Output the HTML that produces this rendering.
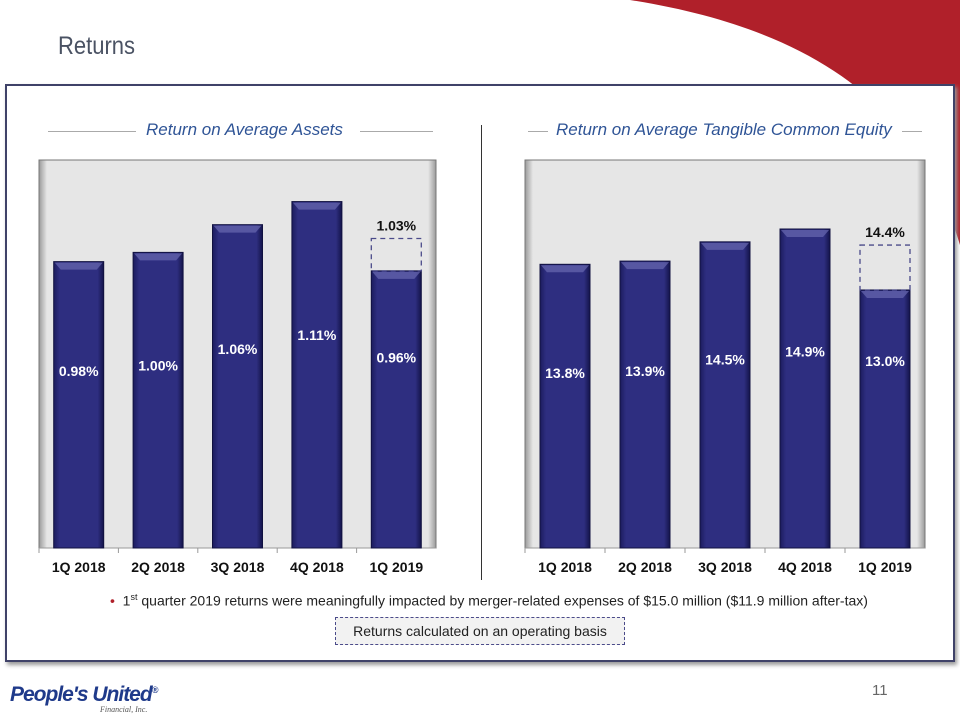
<!DOCTYPE html>
<html><head><meta charset="utf-8">
<style>
body{margin:0;width:960px;height:720px;background:#fff;font-family:"Liberation Sans",sans-serif;overflow:hidden;position:relative}
#title{position:absolute;left:58px;top:32px;font-size:25px;color:#4a5263;font-family:"Liberation Sans Narrow","Liberation Sans",sans-serif;transform:scaleX(0.88);transform-origin:left}
#frame{position:absolute;left:5px;top:84px;width:946px;height:574px;border:2px solid #3f4268;box-shadow:2px 3px 4px #999;background:#fff}
.ct{position:absolute;font-style:italic;color:#2f5496;font-size:17px;font-family:"Liberation Sans Narrow","Liberation Sans",sans-serif}
.ln{position:absolute;height:1px;background:#aaa}
svg{position:absolute;left:0;top:0}
</style></head><body>
<svg width="960" height="720"><path d="M630,0 L960,0 L960,245 C920,110 820,30 630,0Z" fill="#b0202a"/></svg>
<div id="title">Returns</div>
<div id="frame"></div>
<div class="ln" style="left:48px;top:131px;width:88px"></div>
<div class="ln" style="left:360px;top:131px;width:73px"></div>
<div class="ct" style="left:146px;top:120px">Return on Average Assets</div>
<div class="ln" style="left:528px;top:131px;width:20px"></div>
<div class="ln" style="left:902px;top:131px;width:20px"></div>
<div class="ct" style="left:556px;top:120px">Return on Average Tangible Common Equity</div>
<div style="position:absolute;left:481px;top:125px;width:1px;height:455px;background:#333"></div>
<svg id="chart" width="960" height="720"></svg>
<div style="position:absolute;left:110px;top:592px;font-size:14px;color:#222;font-family:'Liberation Sans Narrow','Liberation Sans',sans-serif"><span style="color:#b0202a">•</span>&nbsp; 1<sup style="font-size:9px">st</sup> quarter 2019 returns were meaningfully impacted by merger-related expenses of $15.0 million ($11.9 million after-tax)</div>
<div style="position:absolute;left:335px;top:617px;width:288px;height:26px;border:1px dashed #4b4b8a;background:#f2f2f2;font-size:14px;text-align:center;line-height:26px;color:#222;font-family:'Liberation Sans Narrow','Liberation Sans',sans-serif">Returns calculated on an operating basis</div>
<div style="position:absolute;left:10px;top:683px;font-size:21px;font-weight:bold;font-style:italic;color:#1f3a8a;letter-spacing:-1px">People's United<span style="font-size:9px;vertical-align:super">®</span></div>
<div style="position:absolute;left:100px;top:705px;font-size:8px;font-style:italic;color:#555;font-family:'Liberation Serif',serif">Financial, Inc.</div>
<div style="position:absolute;left:872px;top:682px;font-size:15px;color:#666">11</div>
<script>
const categories=["1Q 2018","2Q 2018","3Q 2018","4Q 2018","1Q 2019"];
const roaaValues=[0.98,1.00,1.06,1.11,0.96];
const roaaLabels=["0.98%","1.00%","1.06%","1.11%","0.96%"];
const roaaAdjusted=1.03;
const roaaAdjustedLabel="1.03%";
const rotceValues=[13.8,13.9,14.5,14.9,13.0];
const rotceLabels=["13.8%","13.9%","14.5%","14.9%","13.0%"];
const rotceAdjusted=14.4;
const rotceAdjustedLabel="14.4%";
const NS="http://www.w3.org/2000/svg";
const svg=document.getElementById('chart');
function mk(t,a,p){const e=document.createElementNS(NS,t);for(const k in a)e.setAttribute(k,a[k]);(p||svg).appendChild(e);return e;}
const defs=mk('defs',{});
defs.innerHTML='<linearGradient id="bg" x1="0" x2="1"><stop offset="0" stop-color="#1c1c5e"/><stop offset="0.12" stop-color="#2e2e80"/><stop offset="0.88" stop-color="#2e2e80"/><stop offset="1" stop-color="#14144a"/></linearGradient><linearGradient id="pg" x1="0" x2="1"><stop offset="0" stop-color="#9a9a9a"/><stop offset="0.02" stop-color="#e6e6e6"/><stop offset="0.98" stop-color="#e6e6e6"/><stop offset="1" stop-color="#9a9a9a"/></linearGradient>';
function chart(px,pw,top,base,vmin,vmax,vals,labels,adj,adjLabel,name){
  const g=mk('g',{});
  
  
  const y=v=>base-(v-vmin)/(vmax-vmin)*(base-top);
  const bg=mk('rect',{x:px,y:top,width:pw,height:base-top,fill:'url(#pg)',stroke:'#777'},g);
  
  
  mk('line',{x1:px,x2:px+pw,y1:base,y2:base,stroke:'#999'},g);
  const slot=pw/vals.length;
  vals.forEach((v,i)=>{
    const cx=px+slot*(i+0.5), bw=50, x=cx-bw/2, yt=y(v);
    const r=mk('rect',{x:x,y:yt,width:bw,height:base-yt,fill:'url(#bg)',stroke:'#111140','stroke-width':1},g);
    
    
    mk('path',{d:`M${x+1},${yt+1} L${x+bw-1},${yt+1} L${x+bw-7},${yt+8} L${x+7},${yt+8}Z`,fill:'#6a6ab0',opacity:0.7},g);
    let ref=yt;
    if(i===vals.length-1){
      const ya=y(adj);ref=ya;
      const d=mk('rect',{x:x,y:ya,width:bw,height:yt-ya,fill:'none',stroke:'#4b4b8a','stroke-dasharray':'5,4','stroke-width':1.3},g);
      
      
      const t=mk('text',{x:cx,y:ya-8,'text-anchor':'middle','font-size':14,'font-weight':'bold',fill:'#111'},g);
      t.textContent=adjLabel;
      
      
    }
    const lt=mk('text',{x:cx,y:ref+(base-ref)*0.4,'text-anchor':'middle','font-size':14,'font-weight':'bold',fill:'#fff'},g);
    lt.textContent=labels[i];
    
    
    const ct=mk('text',{x:cx,y:base+24,'text-anchor':'middle','font-size':14,'font-weight':'bold',fill:'#111'},g);
    ct.textContent=categories[i];
    
    
    mk('line',{x1:px+slot*i,x2:px+slot*i,y1:base,y2:base+5,stroke:'#999'},g);
  });
}
chart(39,397,160,548,0.36,1.2,roaaValues,roaaLabels,roaaAdjusted,roaaAdjustedLabel,'roaa-chart');
chart(525,400,160,548,4.96,17.05,rotceValues,rotceLabels,rotceAdjusted,rotceAdjustedLabel,'rotce-chart');
</script>
</body></html>
